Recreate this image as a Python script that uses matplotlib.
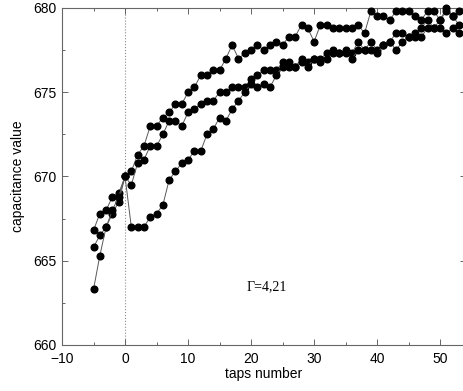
import matplotlib
matplotlib.use("Agg")
import matplotlib.pyplot as plt
from matplotlib.ticker import MultipleLocator

# taps positions
taps = list(range(-5, 54))

run_a = [666.8, 667.8, 668.0, 668.8, 669.0, 670.0,
         670.3, 671.3, 671.8, 673.0, 673.0, 673.5, 673.8, 674.3, 674.3, 675.0,
         675.3, 676.0, 676.0, 676.3, 676.3, 677.0, 677.8, 677.0, 677.3, 677.5,
         677.8, 677.5, 677.8, 678.0, 677.8, 678.3, 678.3, 679.0, 678.8, 678.0,
         679.0, 679.0, 678.8, 678.8, 678.8, 678.8, 679.0, 678.5, 679.8, 679.5,
         679.5, 679.3, 679.8, 679.8, 679.8, 679.5, 679.3, 679.8, 679.8, 679.3,
         680.0, 679.5, 679.8]
run_b = [665.8, 666.5, 667.0, 667.8, 668.5, 670.0,
         669.5, 670.8, 671.0, 671.8, 671.8, 672.5, 673.3, 673.3, 673.0, 673.8,
         674.0, 674.3, 674.5, 674.5, 675.0, 675.0, 675.3, 675.3, 675.3, 675.8,
         676.0, 676.3, 676.3, 676.3, 676.8, 676.8, 676.5, 677.0, 676.8, 677.0,
         677.0, 677.3, 677.5, 677.3, 677.5, 677.3, 678.0, 677.5, 678.0, 677.5,
         677.8, 678.0, 678.5, 678.5, 678.3, 678.5, 678.8, 679.3, 678.8, 679.3,
         679.8, 679.5, 679.0]
run_c = [663.3, 665.3, 667.0, 668.0, 668.8, 670.0,
         667.0, 667.0, 667.0, 667.6, 667.8, 668.3, 669.8, 670.3, 670.8, 671.0,
         671.5, 671.5, 672.5, 672.8, 673.5, 673.3, 674.0, 674.5, 675.0, 675.5,
         675.3, 675.5, 675.3, 676.0, 676.5, 676.5, 676.5, 676.8, 676.5, 677.0,
         676.8, 677.0, 677.3, 677.3, 677.3, 677.0, 677.5, 677.5, 677.5, 677.3,
         677.8, 678.0, 677.5, 678.0, 678.3, 678.3, 678.3, 678.8, 678.8, 678.8,
         678.5, 678.8, 678.5]

x_ticks = [-10, 0, 10, 20, 30, 40, 50]
y_ticks = [660, 665, 670, 675, 680]

plt.rcParams['font.family'] = ['Liberation Sans', 'DejaVu Sans']

fig = plt.figure(figsize=(4.64, 3.91), dpi=100)
ax = fig.add_axes([62 / 464, 46 / 391, 404 / 464, 337 / 391])

ax.axvline(0, color='0.55', linestyle=':', linewidth=0.8, zorder=1)

for run in (run_a, run_b, run_c):
    ax.plot(taps, run, color='0.35', linewidth=0.7, marker='o',
            markersize=4.8, markerfacecolor='black', markeredgecolor='black',
            zorder=3, clip_on=False)

ax.text(19.2, 663.25, '\u0393=4,21', family=['Liberation Serif', 'DejaVu Serif'],
        fontsize=10, va='baseline', ha='left')

ax.set_xlim(-10, 54.1)
ax.set_ylim(660, 680)
ax.set_xticks(x_ticks)
ax.set_yticks(y_ticks)
ax.xaxis.set_minor_locator(MultipleLocator(5))
ax.yaxis.set_minor_locator(MultipleLocator(2.5))
ax.tick_params(which='both', direction='in', top=True, right=True,
               labelsize=10, color='0.3', width=0.6)
ax.tick_params(which='major', length=4.5)
ax.tick_params(which='minor', length=2.5)
ax.tick_params(axis='x', which='major', pad=5)
ax.tick_params(axis='y', which='major', pad=4)
ax.set_xticklabels(['\u221210', '0', '10', '20', '30', '40', '50'])

for s in ax.spines.values():
    s.set_color('0.4')
    s.set_linewidth(0.8)

ax.set_xlabel('taps number', fontsize=10, labelpad=1)
ax.set_ylabel('capacitance value', fontsize=10, labelpad=6)

fig.savefig('out.png', dpi=100)
